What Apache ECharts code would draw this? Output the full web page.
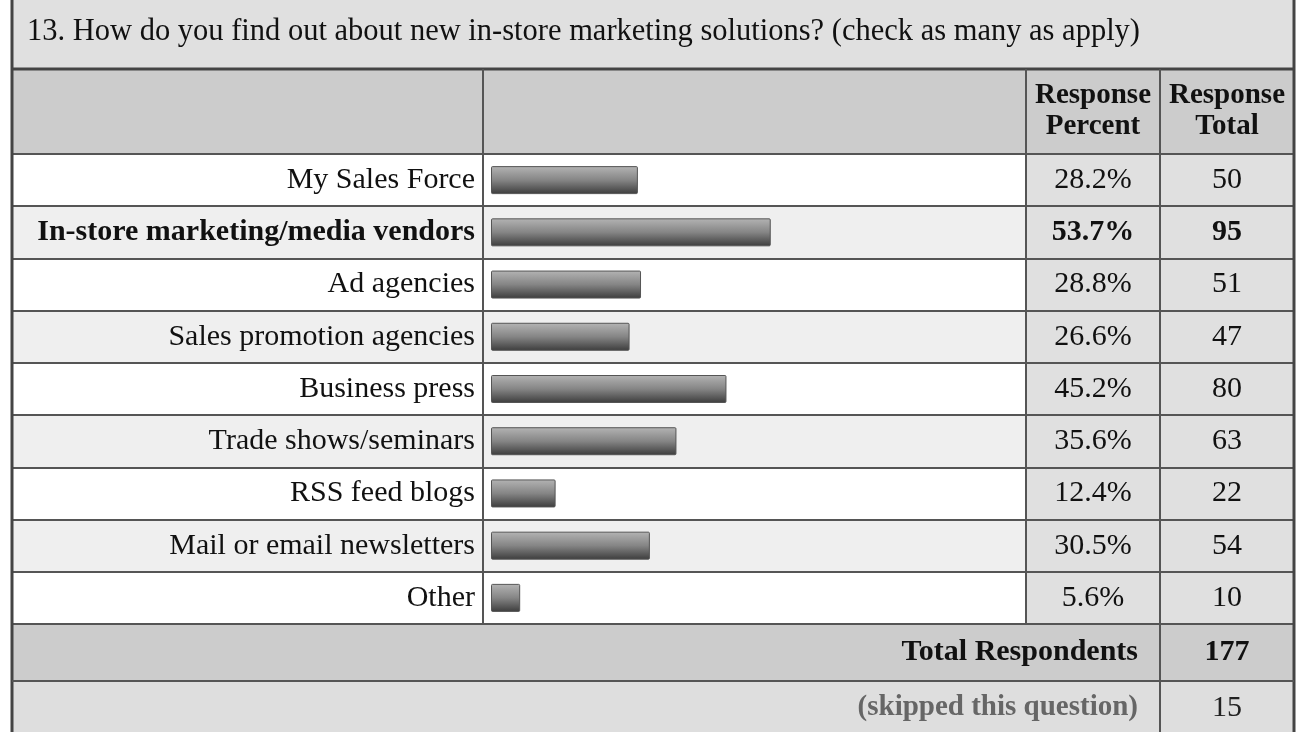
<!DOCTYPE html>
<html>
<head>
<meta charset="utf-8">
<script src="https://cdn.jsdelivr.net/npm/echarts@6/dist/echarts.min.js"></script>
<style>
html,body{margin:0;padding:0;background:#fff;}
#chart{width:1300px;height:732px;}
</style>
</head>
<body>
<div id="chart"></div>
<script>
const title = '13. How do you find out about new in-store marketing solutions? (check as many as apply)';
const categories = ['My Sales Force','In-store marketing/media vendors','Ad agencies','Sales promotion agencies','Business press','Trade shows/seminars','RSS feed blogs','Mail or email newsletters','Other'];
const percents = [28.2, 53.7, 28.8, 26.6, 45.2, 35.6, 12.4, 30.5, 5.6];
const totals = [50, 95, 51, 47, 80, 63, 22, 54, 10];
const boldIndex = 1;
const headerPercent = 'Response\nPercent';
const headerTotal = 'Response\nTotal';
const totalRespondentsLabel = 'Total Respondents';
const totalRespondents = 177;
const skippedLabel = '(skipped this question)';
const skipped = 15;

const FONT = '"Liberation Serif", "Times New Roman", serif';
const FS = 30;
const LINE = '#555';

function items(arr, fmt) {
  return arr.map((v, i) => ({
    value: fmt(v),
    textStyle: i === boldIndex ? { fontWeight: 'bold' } : {}
  }));
}

const chart = echarts.init(document.getElementById('chart'), null, { renderer: 'canvas' });

const TOP = 154, H = 470;
const lineStyle = { stroke: LINE, lineWidth: 2 };

const graphic = [
  { type: 'rect', shape: { x: 12, y: -2, width: 1282, height: 71 }, style: { fill: '#e0e0e0' }, z: -10 },
  { type: 'text', x: 27, y: 32, style: { text: title, font: '30.5px ' + FONT, fill: '#111', verticalAlign: 'middle' }, z: 10 },
  { type: 'rect', shape: { x: 12, y: 69, width: 1282, height: 85 }, style: { fill: '#cccccc' }, z: -10 },
  { type: 'text', x: 1093, y: 111, style: { text: headerPercent, font: 'bold 29px ' + FONT, fill: '#111', align: 'center', verticalAlign: 'middle', lineHeight: 31 }, z: 10 },
  { type: 'text', x: 1227, y: 111, style: { text: headerTotal, font: 'bold 29px ' + FONT, fill: '#111', align: 'center', verticalAlign: 'middle', lineHeight: 31 }, z: 10 },
  { type: 'rect', shape: { x: 12, y: 624, width: 1282, height: 57 }, style: { fill: '#cccccc' }, z: -10 },
  { type: 'text', x: 1138, y: 652, style: { text: totalRespondentsLabel, font: 'bold ' + FS + 'px ' + FONT, fill: '#111', align: 'right', verticalAlign: 'middle' }, z: 10 },
  { type: 'text', x: 1227, y: 652, style: { text: String(totalRespondents), font: 'bold ' + FS + 'px ' + FONT, fill: '#111', align: 'center', verticalAlign: 'middle' }, z: 10 },
  { type: 'rect', shape: { x: 12, y: 681, width: 1282, height: 60 }, style: { fill: '#dedede' }, z: -10 },
  { type: 'text', x: 1138, y: 708, style: { text: skippedLabel, font: 'bold 29px ' + FONT, fill: '#666', align: 'right', verticalAlign: 'middle' }, z: 10 },
  { type: 'text', x: 1227, y: 708, style: { text: String(skipped), font: FS + 'px ' + FONT, fill: '#222', align: 'center', verticalAlign: 'middle' }, z: 10 },
  { type: 'line', shape: { x1: 12, y1: 0, x2: 12, y2: 732 }, style: { stroke: '#444', lineWidth: 3 }, z: 20 },
  { type: 'line', shape: { x1: 1294, y1: 0, x2: 1294, y2: 732 }, style: { stroke: '#444', lineWidth: 3 }, z: 20 },
  { type: 'line', shape: { x1: 12, y1: 69, x2: 1294, y2: 69 }, style: { stroke: '#444', lineWidth: 3 }, z: 20 },
  { type: 'line', shape: { x1: 12, y1: 681, x2: 1294, y2: 681 }, style: lineStyle, z: 20 },
  { type: 'line', shape: { x1: 483, y1: 69, x2: 483, y2: 624 }, style: lineStyle, z: 20 },
  { type: 'line', shape: { x1: 1026, y1: 69, x2: 1026, y2: 624 }, style: lineStyle, z: 20 },
  { type: 'line', shape: { x1: 1160, y1: 69, x2: 1160, y2: 732 }, style: lineStyle, z: 20 }
];

const centeredRich = {
  n: { width: 134, align: 'center', fontSize: FS, fontFamily: FONT, color: '#111' },
  b: { width: 134, align: 'center', fontSize: FS, fontFamily: FONT, color: '#111', fontWeight: 'bold' }
};

const option = {
  animation: false,
  backgroundColor: '#ffffff',
  textStyle: { fontFamily: FONT },
  graphic: graphic,
  grid: [
    { left: 12, right: 6, top: TOP, height: H, containLabel: false },
    { left: 1026, right: 6, top: TOP, height: H, containLabel: false },
    { left: 491, right: 274, top: TOP, height: H, containLabel: false }
  ],
  xAxis: [
    { gridIndex: 0, type: 'value', show: false, min: 0, max: 1 },
    { gridIndex: 1, type: 'value', show: false, min: 0, max: 1 },
    { gridIndex: 2, type: 'value', show: false, min: 0, max: 102.7 }
  ],
  yAxis: [
    { gridIndex: 0, type: 'category', inverse: true, data: categories,
      axisLabel: { show: false }, axisTick: { show: false }, axisLine: { show: false },
      splitArea: { show: true, areaStyle: { color: ['#ffffff', '#efefef'] } },
      splitLine: { show: true, lineStyle: { color: LINE, width: 2 } } },
    { gridIndex: 1, type: 'category', inverse: true, data: categories,
      axisLabel: { show: false }, axisTick: { show: false }, axisLine: { show: false },
      splitArea: { show: true, areaStyle: { color: ['#e0e0e0', '#e0e0e0'] } },
      splitLine: { show: true, lineStyle: { color: LINE, width: 2 } } },
    { gridIndex: 2, type: 'category', inverse: true, position: 'left',
      data: items(categories, v => v),
      axisTick: { show: false }, axisLine: { show: false },
      axisLabel: { margin: 16, fontSize: FS, fontFamily: FONT, color: '#111', interval: 0 } },
    { gridIndex: 2, type: 'category', inverse: true, position: 'right', offset: 0,
      data: percents.map(v => v.toFixed(1) + '%'),
      axisTick: { show: false }, axisLine: { show: false },
      axisLabel: { margin: 0, interval: 0, rich: centeredRich,
        formatter: (v, i) => '{' + (i === boldIndex ? 'b' : 'n') + '|' + v + '}' } },
    { gridIndex: 2, type: 'category', inverse: true, position: 'right', offset: 134,
      data: totals.map(v => String(v)),
      axisTick: { show: false }, axisLine: { show: false },
      axisLabel: { margin: 0, interval: 0, rich: centeredRich,
        formatter: (v, i) => '{' + (i === boldIndex ? 'b' : 'n') + '|' + v + '}' } }
  ],
  series: [{
    type: 'bar',
    xAxisIndex: 2,
    yAxisIndex: 2,
    data: percents,
    barWidth: 28,
    itemStyle: {
      color: new echarts.graphic.LinearGradient(0, 0, 0, 1, [
        { offset: 0, color: '#b4b4b4' },
        { offset: 0.5, color: '#858585' },
        { offset: 1, color: '#3c3c3c' }
      ]),
      borderColor: '#555',
      borderWidth: 1,
      borderRadius: 1
    }
  }]
};
chart.setOption(option);
</script>
</body>
</html>
